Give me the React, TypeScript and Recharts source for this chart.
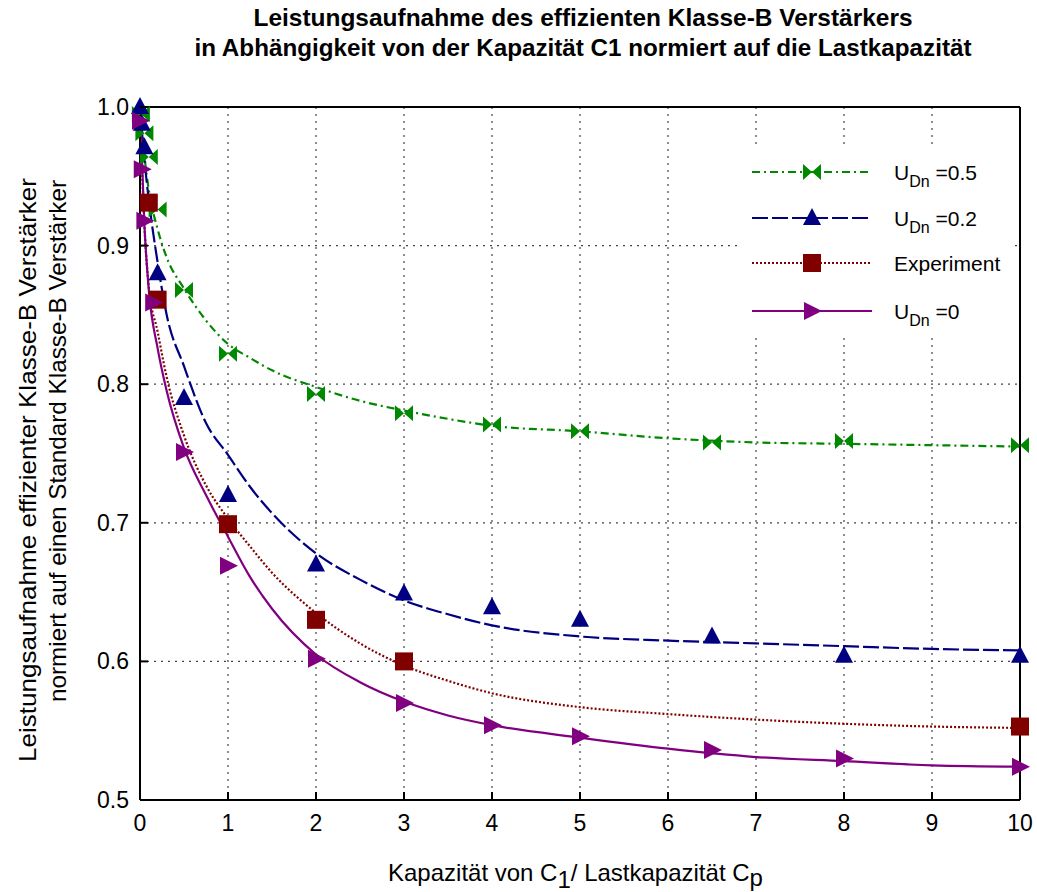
import {
  CartesianGrid,
  ComposedChart,
  Legend,
  Line,
  Scatter,
  XAxis,
  YAxis,
} from "recharts";

const xTicks = [0, 1, 2, 3, 4, 5, 6, 7, 8, 9, 10];
const yTicks = [0.5, 0.6, 0.7, 0.8, 0.9, 1.0];

// simulated / measured points
const xUdn05 = [0.01, 0.05, 0.1, 0.2, 0.5, 1, 2, 3, 4, 5, 6.5, 8, 10];
const yUdn05 = [0.995, 0.981, 0.964, 0.926, 0.868, 0.822, 0.793, 0.779, 0.771, 0.766, 0.758, 0.759, 0.756];
const xUdn02 = [0, 0.02, 0.05, 0.2, 0.5, 1, 2, 3, 4, 5, 6.5, 8, 10];
const yUdn02 = [1.0, 0.988, 0.971, 0.88, 0.79, 0.72, 0.67, 0.649, 0.639, 0.63, 0.618, 0.604, 0.604];
const xExp = [0.1, 0.2, 1, 2, 3, 10];
const yExp = [0.931, 0.861, 0.699, 0.63, 0.6, 0.553];
const xUdn0 = [0, 0.02, 0.05, 0.15, 0.5, 1, 2, 3, 4, 5, 6.5, 8, 10];
const yUdn0 = [0.99, 0.955, 0.918, 0.859, 0.751, 0.669, 0.602, 0.57, 0.554, 0.546, 0.536, 0.53, 0.524];

// fitted curves
const xFit = [0, 0.05, 0.1, 0.2, 0.3, 0.5, 0.75, 1, 1.25, 1.5, 2, 2.5, 3, 3.5, 4, 5, 6, 7, 8, 9, 10];
const fitUdn05 = [1.0, 0.965, 0.94, 0.912, 0.892, 0.869, 0.846, 0.829, 0.819, 0.81, 0.798, 0.788, 0.781, 0.775, 0.77, 0.766, 0.761, 0.758, 0.757, 0.756, 0.755];
const fitUdn02 = [1.0, 0.962, 0.933, 0.888, 0.851, 0.813, 0.772, 0.749, 0.726, 0.707, 0.678, 0.659, 0.644, 0.634, 0.626, 0.618, 0.615, 0.613, 0.611, 0.609, 0.608];
const fitExp = [1.0, 0.915, 0.87, 0.838, 0.806, 0.763, 0.727, 0.703, 0.683, 0.664, 0.635, 0.613, 0.597, 0.586, 0.577, 0.567, 0.562, 0.558, 0.555, 0.553, 0.552];
const fitUdn0 = [1.0, 0.915, 0.868, 0.826, 0.796, 0.754, 0.72, 0.69, 0.661, 0.638, 0.605, 0.585, 0.571, 0.561, 0.554, 0.545, 0.537, 0.531, 0.528, 0.525, 0.524];

const pts = (xs: number[], ys: number[]) => xs.map((x, i) => ({ x, y: ys[i] }));

type MarkerKind = "bowtie" | "triangle" | "square" | "arrow";

const series = [
  { key: "u05", label: "=0.5", sub: true, color: "#008800", dash: "8 4 2 4", marker: "bowtie" as MarkerKind, points: pts(xUdn05, yUdn05), fit: pts(xFit, fitUdn05) },
  { key: "u02", label: "=0.2", sub: true, color: "#000080", dash: "16 4", marker: "triangle" as MarkerKind, points: pts(xUdn02, yUdn02), fit: pts(xFit, fitUdn02) },
  { key: "exp", label: "Experiment", sub: false, color: "#800000", dash: "2 2", marker: "square" as MarkerKind, points: pts(xExp, yExp), fit: pts(xFit, fitExp) },
  { key: "u0", label: "=0", sub: true, color: "#800080", dash: undefined, marker: "arrow" as MarkerKind, points: pts(xUdn0, yUdn0), fit: pts(xFit, fitUdn0) },
];

const TICK_FONT = "'Liberation Sans Narrow', 'Liberation Sans', Arial, sans-serif";
const TEXT_FONT = "'Liberation Sans', Arial, sans-serif";

function Marker({ kind, cx, cy, color }: { kind: MarkerKind; cx: number; cy: number; color: string }) {
  if (kind === "bowtie")
    return (
      <path
        d={`M${cx - 9},${cy - 8}L${cx},${cy}L${cx - 9},${cy + 8}Z M${cx + 9},${cy - 8}L${cx},${cy}L${cx + 9},${cy + 8}Z`}
        fill={color}
      />
    );
  if (kind === "triangle")
    return <path d={`M${cx},${cy - 10}L${cx + 9},${cy + 7}L${cx - 9},${cy + 7}Z`} fill={color} />;
  if (kind === "square") return <rect x={cx - 9} y={cy - 9} width={18} height={18} fill={color} />;
  return <path d={`M${cx - 8},${cy - 9}L${cx + 10},${cy}L${cx - 8},${cy + 9}Z`} fill={color} />;
}

// ticks point into the plot from every side of the frame
const BottomTick = ({ x, y, payload }: any) => (
  <g>
    <line x1={x} y1={y} x2={x} y2={y - 8} stroke="#000" strokeWidth={2} />
    <text x={x} y={y + 31} textAnchor="middle" fontSize={23} fontFamily={TICK_FONT} fill="#000">
      {payload.value}
    </text>
  </g>
);
const TopTick = ({ x, y }: any) => <line x1={x} y1={y} x2={x} y2={y + 8} stroke="#000" strokeWidth={2} />;
const LeftTick = ({ x, y, payload }: any) => (
  <g>
    <line x1={x} y1={y} x2={x + 8} y2={y} stroke="#000" strokeWidth={2} />
    <text x={x - 11} y={y + 8} textAnchor="end" fontSize={23} fontFamily={TICK_FONT} fill="#000">
      {Number(payload.value).toFixed(1)}
    </text>
  </g>
);
const RightTick = ({ x, y }: any) => <line x1={x} y1={y} x2={x - 8} y2={y} stroke="#000" strokeWidth={2} />;

function XTitle() {
  return (
    <text x={388} y={881} fontFamily={TEXT_FONT} fontSize={24} fill="#000">
      Kapazität von C
      <tspan dy={7}>1</tspan>
      <tspan dy={-7}>/ Lastkapazität C</tspan>
      <tspan dy={5}>p</tspan>
    </text>
  );
}

// y axis caption plus the two-line heading above the plot
function YTitle() {
  return (
    <g fontFamily={TEXT_FONT} fill="#000">
      <g fontWeight="bold" fontSize={24}>
        <text x={583} y={26} textAnchor="middle" textLength={659} lengthAdjust="spacingAndGlyphs">
          Leistungsaufnahme des effizienten Klasse-B Verstärkers
        </text>
        <text x={583} y={56} textAnchor="middle" textLength={777} lengthAdjust="spacingAndGlyphs">
          in Abhängigkeit von der Kapazität C1 normiert auf die Lastkapazität
        </text>
      </g>
      <g fontSize={24.5}>
        <text x={0} y={0} transform="translate(36,762) rotate(-90)" textLength={584} lengthAdjust="spacingAndGlyphs">
          Leistungsaufnahme effizienter Klasse-B Verstärker
        </text>
        <text x={0} y={0} transform="translate(66,702) rotate(-90)" textLength={522} lengthAdjust="spacingAndGlyphs">
          normiert auf einen Standard Klasse-B Verstärker
        </text>
      </g>
    </g>
  );
}

const legendRows = [24, 70, 115, 163];

function LegendBox() {
  return (
    <svg width={272} height={190} style={{ display: "block", background: "#fff" }}>
      {series.map((s, i) => {
        const y = legendRows[i];
        return (
          <g key={s.key}>
            <line x1={10} y1={y} x2={130} y2={y} stroke={s.color} strokeWidth={2} strokeDasharray={s.dash} />
            <Marker kind={s.marker} cx={70} cy={y} color={s.color} />
            <text x={152} y={y + 8} fontFamily={TEXT_FONT} fontSize={21} fill="#000">
              {s.sub ? (
                <>
                  U<tspan dy={7} fontSize={16}>Dn</tspan>
                  <tspan dy={-7}> {s.label}</tspan>
                </>
              ) : (
                s.label
              )}
            </text>
          </g>
        );
      })}
    </svg>
  );
}

export default function App() {
  return (
    <div style={{ position: "absolute", left: 0, top: 0, width: 1037, height: 892, background: "#fff" }}>
      <ComposedChart width={1037} height={892} margin={{ top: 106, right: 16, bottom: 62, left: 0 }}>
        <CartesianGrid stroke="#444" strokeWidth={1.2} strokeDasharray="2 5" />
        <XAxis
          dataKey="x"
          type="number"
          domain={[0, 10]}
          ticks={xTicks}
          height={30}
          tickSize={0}
          tickMargin={0}
          axisLine={{ stroke: "#000", strokeWidth: 2 }}
          tickLine={false}
          tick={BottomTick}
          label={<XTitle />}
        />
        <XAxis
          xAxisId="top"
          orientation="top"
          dataKey="x"
          type="number"
          domain={[0, 10]}
          ticks={xTicks}
          height={1}
          tickSize={0}
          tickMargin={0}
          axisLine={{ stroke: "#000", strokeWidth: 2 }}
          tickLine={false}
          tick={TopTick}
        />
        <YAxis
          dataKey="y"
          type="number"
          domain={[0.5, 1]}
          ticks={yTicks}
          width={140}
          tickSize={0}
          tickMargin={0}
          axisLine={{ stroke: "#000", strokeWidth: 2 }}
          tickLine={false}
          tick={LeftTick}
          label={<YTitle />}
        />
        <YAxis
          yAxisId="right"
          orientation="right"
          dataKey="y"
          type="number"
          domain={[0.5, 1]}
          ticks={yTicks}
          width={1}
          tickSize={0}
          tickMargin={0}
          axisLine={{ stroke: "#000", strokeWidth: 2 }}
          tickLine={false}
          tick={RightTick}
        />
        <Legend
          layout="vertical"
          align="center"
          verticalAlign="middle"
          wrapperStyle={{ left: 742, top: 148, width: 272, height: 190 }}
          content={() => <LegendBox />}
        />
        {series.map((s) => (
          <Line
            key={`${s.key}-fit`}
            data={s.fit}
            dataKey="y"
            type="monotone"
            stroke={s.color}
            strokeWidth={2.2}
            strokeDasharray={s.dash}
            dot={false}
            activeDot={false}
            legendType="none"
            isAnimationActive={false}
          />
        ))}
        {series.map((s) => (
          <Scatter
            key={`${s.key}-pts`}
            data={s.points}
            dataKey="y"
            fill={s.color}
            shape={(p: any) => <Marker kind={s.marker} cx={p.cx} cy={p.cy} color={s.color} />}
            isAnimationActive={false}
          />
        ))}
      </ComposedChart>
    </div>
  );
}
